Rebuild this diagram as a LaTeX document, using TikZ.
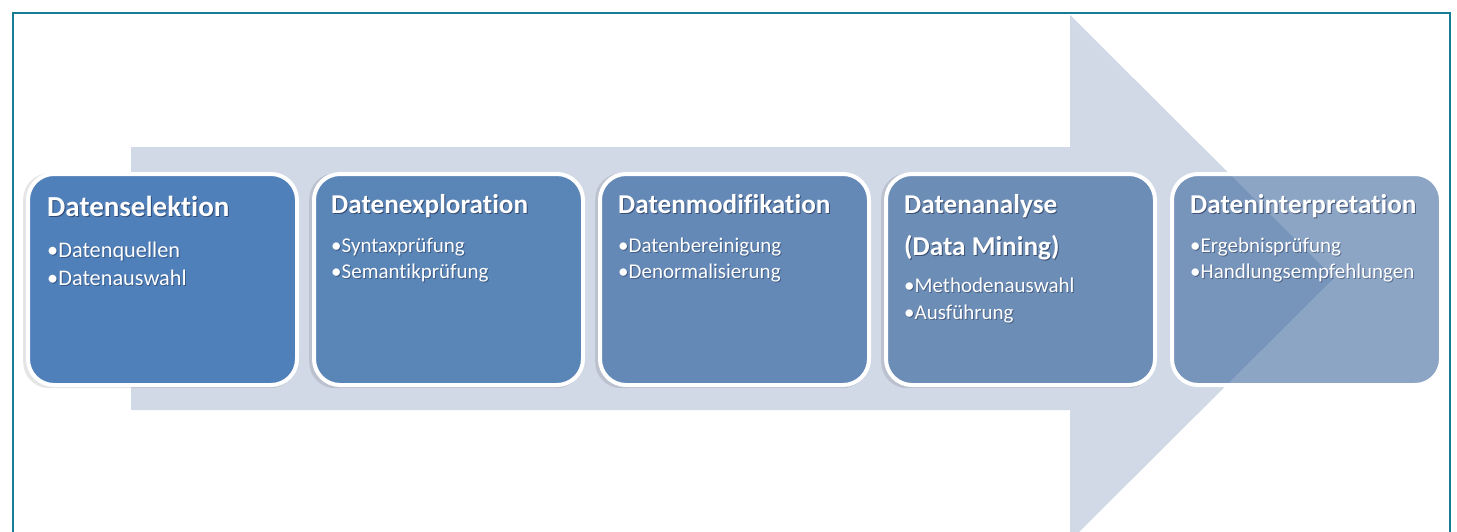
\documentclass[tikz,border=0pt]{standalone}
\usepackage{fontspec}
\setmainfont{Carlito}[Ligatures={NoCommon}]
\definecolor{arrowc}{RGB}{209,216,230}
\definecolor{framec}{RGB}{23,125,150}
\definecolor{bA}{RGB}{79,128,186}
\definecolor{bB}{RGB}{90,133,183}
\definecolor{bC}{RGB}{100,137,183}
\definecolor{bD}{RGB}{108,141,182}
\definecolor{bE}{RGB}{50,96,153}
\definecolor{shadc}{RGB}{20,30,60}
\tikzset{
  stagebox/.style={rectangle, draw=white, line width=4pt, rounded corners=26pt,
    minimum width=269pt, minimum height=211pt, inner sep=0pt, anchor=north west},
  boxshadow/.style={rectangle, fill=black, fill opacity=0.10, draw=none, rounded corners=26pt,
    minimum width=273pt, minimum height=215pt, inner sep=0pt, anchor=north west},
  ttl/.style={font=\bfseries\fontsize{27.2}{30}\selectfont, text=white, anchor=base west, inner sep=0pt},
  ttlA/.style={ttl, font=\bfseries\fontsize{29}{32}\selectfont},
  itm/.style={font=\fontsize{21}{24}\selectfont, text=white, anchor=base west, inner sep=0pt},
  itmA/.style={itm, font=\fontsize{22.3}{25}\selectfont},
  tshadow/.style={text=shadc, text opacity=0.55},
}
\begin{document}
\begin{tikzpicture}[x=1pt,y=-1pt]
\useasboundingbox (0,0) rectangle (1457,531);
\clip (0,0) rectangle (1457,531);
\fill[white] (0,0) rectangle (1457,531);
% frame
\draw[framec, line width=1.6pt] (13,560) -- (13,13) -- (1450,13) -- (1450,560);
% big arrow
\fill[arrowc] (131,147) -- (1070,147) -- (1070,15) -- (1334,278) -- (1070,541) -- (1070,410) -- (131,410) -- cycle;
% shadows
\node[boxshadow] (s1) at (23,173) {};
\node[boxshadow] (s2) at (309,173) {};
\node[boxshadow] (s3) at (595,173) {};
\node[boxshadow] (s4) at (881,173) {};
% boxes
\node[stagebox, fill=bA] (b1) at (26,172) {};
\node[stagebox, fill=bB] (b2) at (312,172) {};
\node[stagebox, fill=bC] (b3) at (598,172) {};
\node[stagebox, fill=bD] (b4) at (884,172) {};
\node[stagebox, fill=bE, fill opacity=0.56] (b5) at (1170,172) {};
% texts: shadows
\node[ttlA, tshadow] (t1s) at (48,217) {Datenselektion};
\node[itmA, tshadow, text opacity=0.4] (i1as) at (48,258) {•Datenquellen};
\node[itmA, tshadow, text opacity=0.4] (i1bs) at (48,286.5) {•Datenauswahl};
\node[ttl, tshadow] (t2s) at (332,214) {Datenexploration};
\node[itm, tshadow, text opacity=0.4] (i2as) at (332,253) {•Syntaxprüfung};
\node[itm, tshadow, text opacity=0.4] (i2bs) at (332,279) {•Semantikprüfung};
\node[ttl, tshadow] (t3s) at (619,214) {Datenmodifikation};
\node[itm, tshadow, text opacity=0.4] (i3as) at (619,253) {•Datenbereinigung};
\node[itm, tshadow, text opacity=0.4] (i3bs) at (619,279) {•Denormalisierung};
\node[ttl, tshadow] (t4s) at (905,214) {Datenanalyse};
\node[ttl, tshadow] (t4bs) at (905,256) {(Data Mining)};
\node[itm, tshadow, text opacity=0.4] (i4as) at (905,293) {•Methodenauswahl};
\node[itm, tshadow, text opacity=0.4] (i4bs) at (905,320) {•Ausführung};
\node[ttl, tshadow] (t5s) at (1191,214) {Dateninterpretation};
\node[itm, tshadow, text opacity=0.4] (i5as) at (1191,253) {•Ergebnisprüfung};
\node[itm, tshadow, text opacity=0.4] (i5bs) at (1191,279) {•Handlungsempfehlungen};
% texts
\node[ttlA] (t1) at (47,216) {Datenselektion};
\node[itmA] (i1a) at (47,257) {•Datenquellen};
\node[itmA] (i1b) at (47,285.5) {•Datenauswahl};
\node[ttl] (t2) at (331,213) {Datenexploration};
\node[itm] (i2a) at (331,252) {•Syntaxprüfung};
\node[itm] (i2b) at (331,278) {•Semantikprüfung};
\node[ttl] (t3) at (618,213) {Datenmodifikation};
\node[itm] (i3a) at (618,252) {•Datenbereinigung};
\node[itm] (i3b) at (618,278) {•Denormalisierung};
\node[ttl] (t4) at (904,213) {Datenanalyse};
\node[ttl] (t4b) at (904,255) {(Data Mining)};
\node[itm] (i4a) at (904,292) {•Methodenauswahl};
\node[itm] (i4b) at (904,319) {•Ausführung};
\node[ttl] (t5) at (1190,213) {Dateninterpretation};
\node[itm] (i5a) at (1190,252) {•Ergebnisprüfung};
\node[itm] (i5b) at (1190,278) {•Handlungsempfehlungen};
\end{tikzpicture}
\end{document}
